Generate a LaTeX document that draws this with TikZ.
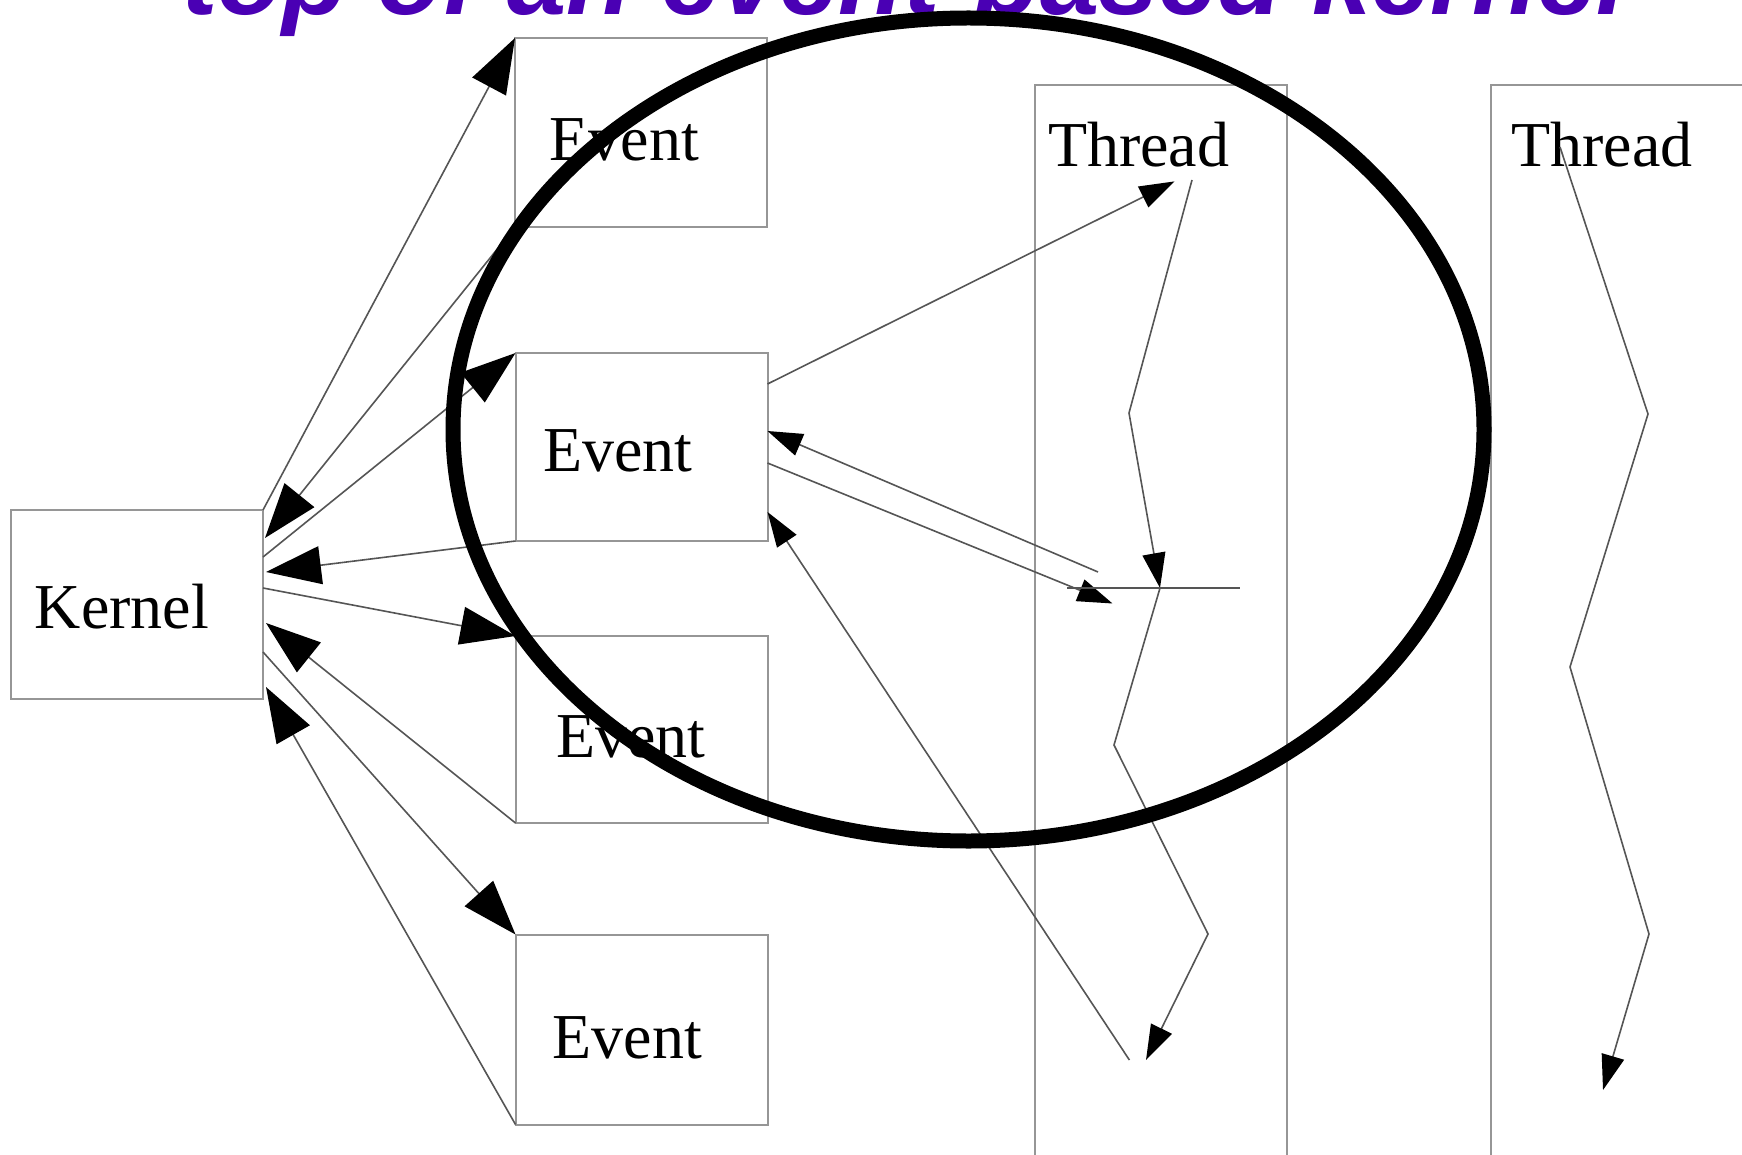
\documentclass[tikz,border=0pt]{standalone}
\usepackage{fontspec}
\setmainfont{Liberation Serif}
\newfontfamily\titlefont{Liberation Sans}
\usetikzlibrary{arrows.meta}
\definecolor{titlepurple}{RGB}{74,0,180}
\definecolor{boxgray}{RGB}{150,150,150}
\definecolor{linegray}{RGB}{85,85,85}
\begin{document}
\begin{tikzpicture}[x=1pt,y=-1pt,
  box/.style={draw=boxgray,line width=2pt,minimum width=252pt,minimum height=189pt,inner sep=0pt,outer sep=0pt},
  lbl/.style={font=\fontsize{64}{70}\selectfont,inner sep=0pt,anchor=base},
  conn/.style={draw=linegray,line width=1.6pt},
  bigarrow/.style={conn,-{Triangle[length=55pt,width=38pt,color=black,fill=black]}},
  smallarrow/.style={conn,-{Triangle[length=35pt,width=23pt,color=black,fill=black]}},
]
\useasboundingbox (0,0) rectangle (1742,1155);
\fill[white] (0,0) rectangle (1742,1155);
\clip (0,0) rectangle (1742,1155);

% title (cut off at the top)
\node[anchor=base west,inner sep=0pt,text=titlepurple,
  font=\titlefont\bfseries\itshape\fontsize{106.5}{112}\selectfont] (title) at (182,15) {top of an event-based kernel};

% boxes
\node[box,minimum height=188.5pt] (K) at (137,604.25) {};
\node[box] (E1) at (641,132.5) {};
\node[box,minimum height=188pt] (E2) at (641.5,447) {};
\node[box,minimum height=187pt] (E3) at (641.5,729.5) {};
\node[box,minimum height=190pt] (E4) at (641.5,1029.5) {};
\node[box,minimum height=1100pt] (T1) at (1161,635) {};
\node[box,minimum width=280pt,minimum height=1100pt] (T2) at (1631,635) {};

% labels
\node[lbl] (Kt) at (122,628) {Kernel};
\node[lbl] (E1t) at (624.5,160.7) {Event};
\node[lbl] (E2t) at (618,471.5) {Event};
\node[lbl] (E3t) at (631,757.5) {Event};
\node[lbl] (E4t) at (627.5,1058) {Event};
\node[lbl] (T1t) at (1138.6,167) {Thread};
\node[lbl] (T2t) at (1602,167) {Thread};

% kernel side coordinates
\coordinate (kin1) at (265,538);
\coordinate (kout2) at (263,557);
\coordinate (kin2) at (266,572);
\coordinate (kout3) at (263,588);
\coordinate (kin3) at (266,623);
\coordinate (kout4) at (263,652);
\coordinate (kin4) at (266,687);

% kernel <-> events
\draw[bigarrow] (K.north east) -- (E1.north west);
\draw[bigarrow] (E1.south west) -- (kin1);
\draw[bigarrow] (kout2) -- (E2.north west);
\draw[bigarrow] (E2.south west) -- (kin2);
\draw[bigarrow] (kout3) -- (E3.north west);
\draw[bigarrow] (E3.south west) -- (kin3);
\draw[bigarrow] (kout4) -- (E4.north west);
\draw[bigarrow] (E4.south west) -- (kin4);

% event 2 <-> thread 1
\coordinate (e2a) at (767.5,384);
\coordinate (e2b) at (767.5,431);
\coordinate (e2c) at (767.5,463);
\coordinate (e2d) at (767.5,512);
\coordinate (t1top) at (1174.5,181.4);
\coordinate (t1b) at (1098,572);
\coordinate (t1c) at (1112.5,603.5);
\coordinate (t1d) at (1129.4,1060);
\draw[smallarrow] (e2a) -- (t1top);
\draw[smallarrow] (t1b) -- (e2b);
\draw[smallarrow] (e2c) -- (t1c);
\draw[smallarrow] (t1d) -- (e2d);

% thread 1 zigzag
\coordinate (z1) at (1192,180);
\coordinate (z2) at (1129,413);
\coordinate (z3) at (1160,588);
\coordinate (z4) at (1114,745);
\coordinate (z5) at (1208,934);
\coordinate (z6) at (1146,1060);
\coordinate (h1) at (1067,588);
\coordinate (h2) at (1240,588);
\draw[smallarrow] (z1) -- (z2) -- (z3);
\draw[smallarrow] (z3) -- (z4) -- (z5) -- (z6);
\draw[conn] (h1) -- (h2);

% thread 2 zigzag
\coordinate (w1) at (1560,147);
\coordinate (w2) at (1648,414);
\coordinate (w3) at (1570,667);
\coordinate (w4) at (1649,934);
\coordinate (w5) at (1603,1090);
\draw[smallarrow] (w1) -- (w2) -- (w3) -- (w4) -- (w5);

% highlighting ellipse
\draw[line width=15pt,black] (968.5,429.5) ellipse [x radius=515.5, y radius=411.5];
\end{tikzpicture}
\end{document}
